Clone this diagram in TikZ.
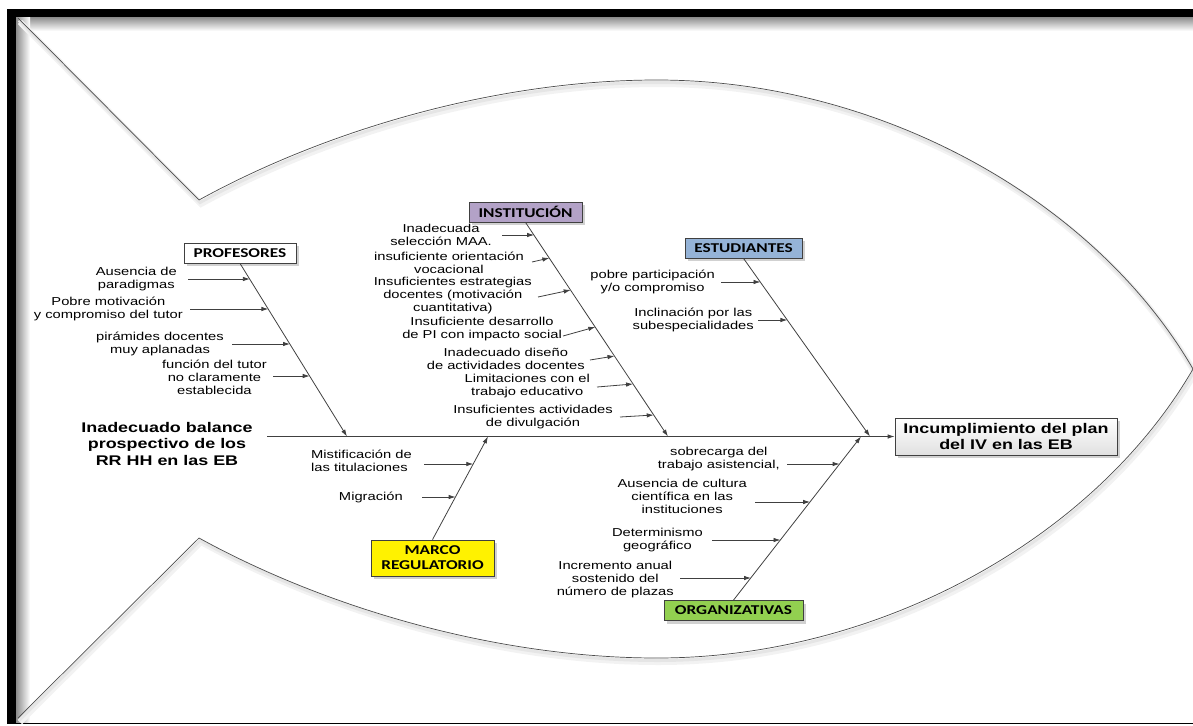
\documentclass[tikz,border=0pt]{standalone}
\usepackage{fontspec}
\setmainfont{Liberation Sans}[FakeStretch=1.28]
\newfontfamily\catfont{Carlito}[FakeStretch=1.28]
\usetikzlibrary{arrows.meta,shadows,calc}
\definecolor{instc}{HTML}{B3A2C7}
\definecolor{estc}{HTML}{95B3D7}
\definecolor{orgc}{HTML}{92D050}
\definecolor{lnc}{HTML}{404040}
\newcommand\subarr[5]{\coordinate (#1s) at (#2,#3); \coordinate (#1e) at (#4,#5); \draw[arr] (#1s) -- (#1e);}
\tikzset{
  ln/.style={draw=lnc, line width=0.8pt},
  arr/.style={ln, -{Latex[length=7pt,width=4.5pt]}},
  lab/.style={font=\fontsize{11.5}{13}\selectfont, align=center, inner sep=0pt, text=black},
  bigtxt/.style={font=\bfseries\fontsize{14}{16.5}\selectfont, align=center, inner sep=0pt},
  catbox/.style={draw=lnc, line width=0.8pt, font=\catfont\bfseries\fontsize{13.5}{15}\selectfont,
    minimum height=20pt, inner sep=0pt, align=center,
    drop shadow={shadow xshift=3pt, shadow yshift=-3pt, opacity=0.3, fill=black!60}},
  fishln/.style={draw=black!70, line width=0.7pt},
  fishshA/.style={draw=black!5, line width=6pt},
  fishshB/.style={draw=black!10, line width=3pt},
}
\begin{document}
\begin{tikzpicture}[x=1pt,y=-1pt]
\useasboundingbox (0,0) rectangle (1193,725);
% frame
\shade[top color=black!45, bottom color=white] (16,17) rectangle (1193,31);
\shade[left color=black!45, right color=white] (16,17) rectangle (30,723);
\fill[black] (7,9) rectangle (1193,17);
\fill[black] (7,9) rectangle (16,724);
\draw[black, line width=1.4pt] (16,723.5) -- (1193,723.5);
% fish outline
\def\fishpath{(18,18) -- (199,200) .. controls (330,128) and (500,80) .. (657,80)
  .. controls (880,80) and (1095,200) .. (1193,369)
  .. controls (1095,538) and (880,658) .. (657,658)
  .. controls (500,658) and (330,610) .. (199,538) -- (18,718)}
\begin{scope}[shift={(2,4)}]
  \draw[fishshA] \fishpath;
\end{scope}
\begin{scope}[shift={(1,2.5)}]
  \draw[fishshB] \fishpath;
\end{scope}
\draw[fishln] \fishpath;

% head and tail texts
\node[bigtxt] (cause) at (167,443.5) {Inadecuado balance\\prospectivo de los\\RR HH en las EB};
\node[catbox, minimum width=222pt, minimum height=37pt, top color=white, bottom color=black!12,
  font=\bfseries\fontsize{14}{16.5}\selectfont] (effect) at (1006,436.5) {Incumplimiento del plan\\del IV en las EB};

% category boxes
\node[catbox, minimum width=112pt, fill=white] (prof) at (240,253) {PROFESORES};
\node[catbox, minimum width=113pt, fill=instc] (inst) at (525.5,212) {INSTITUCIÓN};
\node[catbox, minimum width=117pt, fill=estc] (est) at (743.5,248) {ESTUDIANTES};
\node[catbox, minimum width=123pt, minimum height=36pt, fill=yellow] (marco) at (432.5,558) {MARCO\\REGULATORIO};
\node[catbox, minimum width=139pt, fill=orgc] (organ) at (733.5,610.5) {ORGANIZATIVAS};

% spine and branches
\coordinate (tail) at (267,436.5);
\coordinate (PB) at (347,436.5);
\coordinate (IB) at (668,436.5);
\coordinate (EB) at (870,436.5);
\coordinate (MB) at (488,436.5);
\coordinate (OB) at (861,436.5);
\draw[arr] (tail) -- (effect.west);
\draw[arr] (prof.south) -- (PB);
\draw[arr] (inst.south) -- (IB);
\draw[arr] (est.south) -- (EB);
\draw[arr] (marco.north) -- (MB);
\draw[arr] (organ.north) -- (OB);

% PROFESORES
\node[lab, anchor=east] (p1) at (177,279) {Ausencia de\\paradigmas};
\node[lab, anchor=east] (p2) at (183,309) {Pobre motivación\\y compromiso del tutor};
\node[lab, anchor=east] (p3) at (224,343.5) {pirámides docentes\\muy aplanadas};
\node[lab, anchor=east] (p4) at (267,377.5) {función del tutor\\no claramente\\establecida};
\subarr{pa}{188}{279}{249.9}{279}
\subarr{pb}{190}{309}{268.4}{309}
\subarr{pc}{232}{344}{290}{344}
\subarr{pd}{273}{376}{309.7}{376}

% INSTITUCION
\node[lab, anchor=east] (i1) at (492,235) {Inadecuada\\selección MAA.};
\node[lab, anchor=east] (i2) at (524,263) {insuficiente orientación\\vocacional};
\node[lab, anchor=east] (i3) at (532,295.5) {Insuficientes estrategias\\docentes (motivación\\cuantitativa)};
\node[lab, anchor=east] (i4) at (562,329.5) {Insuficiente desarrollo\\de PI con impacto social};
\node[lab, anchor=east] (i5) at (585,359) {Inadecuado diseño\\de actividades docentes};
\node[lab, anchor=east] (i6) at (590,386) {Limitaciones con el\\trabajo educativo};
\node[lab, anchor=east] (i7) at (613,417.5) {Insuficientes actividades\\de divulgación};
\subarr{ia}{502}{235}{534.1}{235}
\subarr{ib}{532}{262}{549.4}{258}
\subarr{ic}{538}{297}{570.7}{290}
\subarr{id}{563}{336}{595.3}{327}
\subarr{ie}{590}{360}{614.5}{356}
\subarr{if}{597}{387}{633.1}{384}
\subarr{ig}{620}{417}{653.7}{415}

% ESTUDIANTES
\node[lab, anchor=east] (e1) at (715,281.5) {pobre participación\\y/o compromiso};
\node[lab, anchor=east] (e2) at (754,320) {Inclinación por las\\subespecialidades};
\subarr{ea}{721}{282}{760.5}{282}
\subarr{eb}{758}{320}{787.4}{320}

% MARCO REGULATORIO
\node[lab, anchor=east, align=left] (m1) at (412,460.5) {Mistificación de\\las titulaciones};
\node[lab, anchor=east] (m2) at (403,497) {Migración};
\subarr{ma}{424}{464}{473.3}{464}
\subarr{mb}{422}{497}{455.6}{497}

% ORGANIZATIVAS
\node[lab, anchor=east] (o1) at (780,459.5) {sobrecarga del\\trabajo asistencial,};
\node[lab, anchor=east] (o2) at (747,496) {Ausencia de cultura\\científica en las\\instituciones};
\node[lab, anchor=east] (o3) at (703,540.5) {Determinismo\\geográfico};
\node[lab, anchor=east] (o4) at (674,579.5) {Incremento anual\\sostenido del\\número de plazas};
\subarr{oa}{787}{464}{839.6}{464}
\subarr{ob}{755}{502}{810.1}{502}
\subarr{oc}{712}{540}{780.5}{540}
\subarr{od}{680}{578}{751}{578}
\end{tikzpicture}
\end{document}
